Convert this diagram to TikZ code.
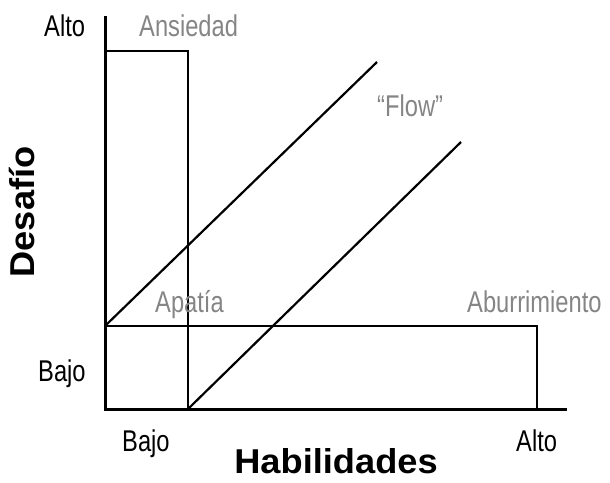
\documentclass[tikz,border=0pt]{standalone}
\usepackage{fontspec}
\setmainfont{Liberation Sans}[FakeStretch=0.79]
\newfontfamily\axisfont{Liberation Sans Bold}[FakeStretch=1.05]
\begin{document}
\begin{tikzpicture}[x=1pt,y=-1pt,
  lbl/.style={inner sep=0pt,font=\fontsize{30}{32}\selectfont,text=black},
  zone/.style={lbl,text=black!48},
  ttl/.style={inner sep=0pt,font=\fontsize{34.5}{36}\axisfont},
  axisline/.style={line width=3pt},
  edge/.style={line width=2.2pt}]
\useasboundingbox (0,0) rectangle (610,482);
% corners
\coordinate (o) at (105,409);
\coordinate (ytop) at (105,16);
\coordinate (xend) at (567,409);
\coordinate (a1) at (105,51);
\coordinate (a2) at (188,51);
\coordinate (a3) at (188,409);
\coordinate (b1) at (105,326);
\coordinate (b2) at (537,326);
\coordinate (b3) at (537,409);
\coordinate (f1) at (377,62);
\coordinate (f2) at (461,142);
% axes
\draw[axisline] (ytop) -- (o) -- (xend);
% zones
\draw[edge] (a1) -- (a2) -- (a3);
\draw[edge] (b1) -- (b2) -- (b3);
\draw[edge] (b1) -- (f1);
\draw[edge] (a3) -- (f2);
% labels
\node[lbl,anchor=base west] (altoy) at (44,36) {Alto};
\node[lbl,anchor=base west] (bajoy) at (38,381) {Bajo};
\node[lbl,anchor=base west] (bajox) at (122,451) {Bajo};
\node[lbl,anchor=base west] (altox) at (516,451) {Alto};
\node[zone,anchor=base west] (ans) at (139,36) {Ansiedad};
\node[zone,anchor=base west] (flow) at (377,116) {“Flow”};
\node[zone,anchor=base west] (apa) at (155,312) {Apatía};
\node[zone,anchor=base west] (abu) at (467,312) {Aburrimiento};
\node[ttl,anchor=base] (hab) at (336,473) {Habilidades};
\node[ttl,anchor=base,rotate=90] (des) at (34,212) {Desafío};
\end{tikzpicture}
\end{document}
